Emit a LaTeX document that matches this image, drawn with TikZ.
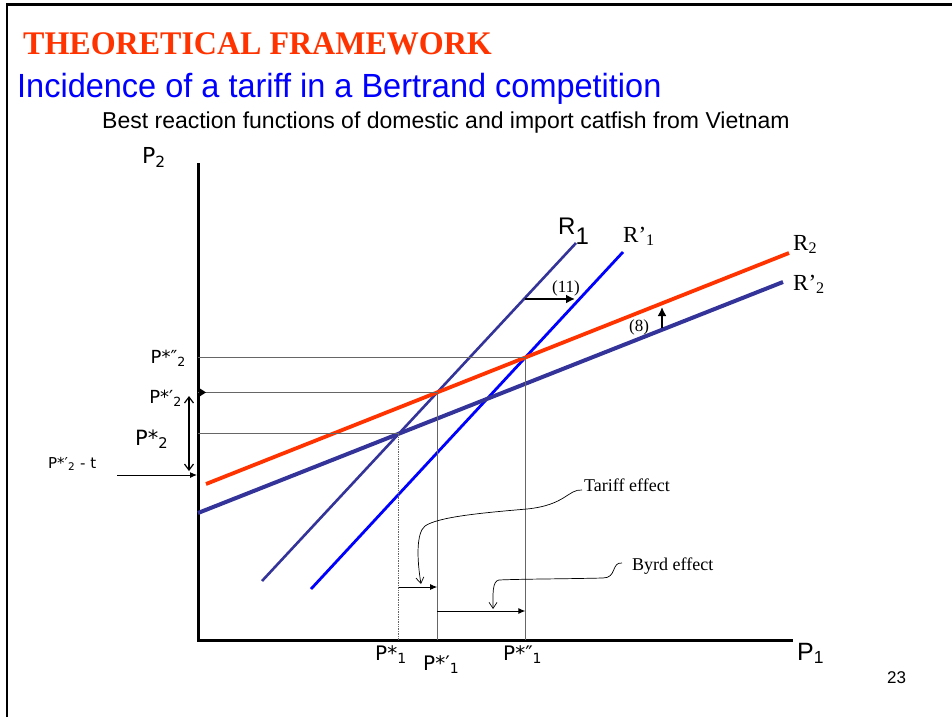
\documentclass[tikz,border=0pt]{standalone}
\usepackage{fontspec}
\setmainfont{Liberation Serif}
\setsansfont{Liberation Sans}
\newfontfamily\dvs{DejaVu Sans}
\usetikzlibrary{arrows.meta, positioning, calc, intersections}
\definecolor{titlered}{RGB}{255, 51, 0}
\definecolor{darkblue}{RGB}{51, 51, 153}
\definecolor{pureblue}{RGB}{0, 0, 255}

\begin{document}
\begin{tikzpicture}[
                x=1pt, y=-1pt,
                axis/.style={line width=3pt, line join=miter},
                guide/.style={draw=black!60, line width=1.2pt},
                shiftarrow/.style={-{Latex[length=7pt, width=6pt]}, line width=1pt},
                bigarrow/.style={-{Latex[length=9pt, width=9pt]}, line width=2.6pt},
                note/.style={-{Straight Barb[length=6pt, width=8pt]}, line width=0.7pt},
                plab/.style={font=\dvs\fontsize{18}{20}\selectfont, inner sep=0pt},
                blab/.style={font=\dvs\fontsize{20}{22}\selectfont, inner sep=0pt, anchor=base west},
                rlab/.style={font=\fontsize{23}{26}\selectfont, inner sep=0pt, anchor=base west},
                txt/.style={font=\fontsize{18}{20}\selectfont, inner sep=0pt, anchor=base west}
            ]
                \useasboundingbox (0,0) rectangle (952,717);
                \draw[line width=2.5pt] (7,717) -- (7,4.5) -- (952,4.5);

                \node[anchor=base west, inner sep=0pt, text=titlered, xscale=0.97, font=\bfseries\fontsize{33}{36}\selectfont] (title) at (23,55) {THEORETICAL FRAMEWORK};
                \node[anchor=base west, inner sep=0pt, text=pureblue, xscale=0.97, font=\sffamily\fontsize{33.5}{36}\selectfont] (subtitle) at (17,97) {Incidence of a tariff in a Bertrand competition};
                \node[anchor=base west, inner sep=0pt, font=\sffamily\fontsize{23}{26}\selectfont] (caption) at (102,128) {Best reaction functions of domestic and import catfish from Vietnam};
                \node[anchor=base west, inner sep=0pt, font=\sffamily\fontsize{17}{20}\selectfont] (page) at (887,683) {23};

                \coordinate (O) at (198,640);
                \coordinate (ytop) at (198,163);
                \coordinate (xend) at (793,640);
                \draw[axis] (ytop) -- (O) -- (xend);
                \node[anchor=base west, inner sep=0pt, font=\dvs\fontsize{22}{24}\selectfont] (p2) at (142,163) {P\textsubscript{2}};
                \node[anchor=base west, inner sep=0pt, font=\sffamily\fontsize{25}{28}\selectfont] (p1) at (797,660) {P\textsubscript{1}};

                \coordinate (r1a) at (262,581);
                \coordinate (r1b) at (576,243);
                \coordinate (r1pa) at (311,589);
                \coordinate (r1pb) at (623,252);
                \coordinate (r2a) at (206,484);
                \coordinate (r2b) at (789,253);
                \coordinate (r2pa) at (198,513);
                \coordinate (r2pb) at (783,282);

                \draw[name path=R1, draw=darkblue, line width=2.6pt] (r1a) -- (r1b);
                \draw[name path=R1p, draw=pureblue, line width=2.8pt] (r1pa) -- (r1pb);
                \draw[name path=R2p, draw=darkblue, line width=4pt] (r2pa) -- (r2pb);
                \draw[name path=R2, draw=titlered, line width=3.8pt] (r2a) -- (r2b);

                \path[name intersections={of=R1 and R2p, by=E0}];
                \path[name intersections={of=R1 and R2, by=E1}];
                \path[name intersections={of=R1p and R2, by=E2}];

                \draw[guide] (O |- E0) -- (E0);
                \draw[draw=black!60, line width=0.7pt, densely dotted] (E0) -- (E0 |- O);
                \draw[guide] (O |- E1) -- (E1) -- (E1 |- O);
                \draw[guide] (O |- E2) -- (E2) -- (E2 |- O);
                \fill ($(O |- E1)+(1,-4.5)$) -- ++(7,4.5) -- ++(-7,4.5) -- cycle;

                \node[rlab, font=\sffamily\fontsize{24}{26}\selectfont] (lr1) at (558,234) {R\raisebox{-0.45em}{1}};
                \node[rlab] (lr1p) at (623,242) {R’\textsubscript{1}};
                \node[rlab] (lr2) at (793,250) {R\textsubscript{2}};
                \node[rlab] (lr2p) at (793,290) {R’\textsubscript{2}};

                \node[plab, anchor=base east] (ps2pp) at (186,363) {P*″\textsubscript{2}};
                \node[plab, anchor=base east] (ps2p) at (182,403) {P*′\textsubscript{2}};
                \node[plab, anchor=base west, font=\dvs\fontsize{21}{23}\selectfont] (ps2) at (135,445) {P*\textsubscript{2}};
                \node[plab, anchor=base west, font=\dvs\fontsize{15}{17}\selectfont] (ps2t) at (48,468) {P*′\textsubscript{2} - t};

                \node[blab] (ps1) at (375,660) {P*\textsubscript{1}};
                \node[blab] (ps1p) at (423,670) {P*′\textsubscript{1}};
                \node[blab] (ps1pp) at (503,660) {P*″\textsubscript{1}};

                \coordinate (tfree) at (117,475);
                \coordinate (tax) at (197,475);
                \draw[shiftarrow] (tfree) -- (tax);
                \coordinate (dtop) at (189,396);
                \coordinate (dbot) at (189,471);
                \draw[{Straight Barb[length=6pt, width=9pt]}-{Straight Barb[length=6pt, width=9pt]}, line width=1.2pt] (dtop) -- (dbot);

                \coordinate (s11a) at (525,299);
                \coordinate (s11b) at (575,299);
                \draw[bigarrow] (s11a) -- (s11b);
                \node[txt, font=\fontsize{17}{19}\selectfont] (l11) at (552,292) {(11)};
                \coordinate (s8a) at (662,328);
                \coordinate (s8b) at (662,307);
                \draw[bigarrow] (s8a) -- (s8b);
                \node[txt, font=\fontsize{17}{19}\selectfont] (l8) at (629,331) {(8)};

                \coordinate (lowA) at (0,587);
                \coordinate (lowB) at (0,611);
                \draw[shiftarrow] (E0 |- lowA) -- (E1 |- lowA);
                \draw[shiftarrow] (E1 |- lowB) -- (E2 |- lowB);

                \node[txt] (teff) at (584,491) {Tariff effect};
                \node[txt] (beff) at (632,570) {Byrd effect};
                \draw[note] ($(teff.base west)+(-2,-1)$) .. controls (568,489) and (566,505) .. (527,509)
                    .. controls (480,513) and (438,517) .. (425,526) .. controls (416,533) and (417,560) .. (421,584);
                \draw[note] ($(beff.base west)+(-10,-7)$) .. controls (611,562) and (617,578) .. (603,578)
                    .. controls (560,579) and (520,579) .. (499,580) .. controls (492,581) and (493,595) .. (493,609);
            \end{tikzpicture}
\end{document}
